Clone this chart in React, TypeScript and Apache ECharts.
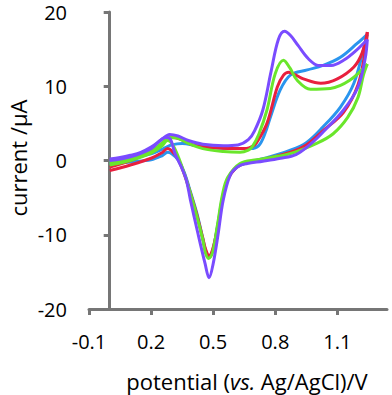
import { useEffect, useRef } from "react";
import * as echarts from "echarts";

// Tick labels
const xTickValues = [-0.1, 0.2, 0.5, 0.8, 1.1];
const yTickValues = [-20, -10, 0, 10, 20];

const seriesNames = ["blue", "red", "green", "purple"];
const seriesColors = ["#2a95ee", "#e8203e", "#6ae62b", "#7a4cff"];

// [potential (V), current (µA)] — anodic (forward) and cathodic (reverse) branches
const blueForward = [
  [0.0, -0.2], [0.1, 0.3], [0.2, 0.9], [0.26, 1.6], [0.3, 2.1], [0.35, 2.3], [0.42, 2.0],
  [0.5, 1.7], [0.6, 1.6], [0.68, 1.6], [0.72, 2.0], [0.75, 3.6], [0.776, 5.8], [0.824, 9.5],
  [0.873, 11.5], [0.955, 12.2], [1.03, 12.8], [1.115, 13.9], [1.197, 15.8], [1.245, 17.0],
];
const blueReverse = [
  [1.245, 17.0], [1.226, 14.9], [1.18, 10.4], [1.115, 7.2], [1.03, 4.5], [0.95, 2.4], [0.87, 1.35],
  [0.75, 0.3], [0.66, -0.3], [0.61, -1.0], [0.57, -2.5], [0.545, -5.0], [0.52, -9.0], [0.497, -12.2],
  [0.48, -13.0], [0.464, -12.2], [0.45, -10.5], [0.42, -7.0], [0.39, -4.2], [0.36, -1.6], [0.33, 0.1],
  [0.3, 0.9], [0.28, 1.1], [0.25, 0.6], [0.2, 0.1], [0.1, -0.2], [0.0, -0.5],
];

const redForward = [
  [0.0, -0.9], [0.1, 0.0], [0.2, 1.2], [0.25, 2.2], [0.3, 3.1], [0.34, 2.9], [0.4, 2.1],
  [0.5, 1.7], [0.6, 1.6], [0.66, 1.6], [0.69, 1.9], [0.71, 2.4], [0.76, 5.0], [0.81, 9.9],
  [0.84, 11.5], [0.865, 11.9], [0.9, 11.5], [0.936, 11.0], [1.02, 10.4], [1.1, 11.0], [1.18, 12.6],
  [1.22, 14.5], [1.245, 17.3],
];
const redReverse = [
  [1.245, 17.3], [1.235, 14.8], [1.2, 10.2], [1.13, 6.5], [1.03, 4.0], [0.95, 2.1], [0.87, 1.1],
  [0.75, 0.2], [0.66, -0.3], [0.61, -1.0], [0.57, -2.6], [0.545, -5.2], [0.52, -9.2], [0.497, -12.0],
  [0.48, -12.8], [0.464, -12.0], [0.45, -10.5], [0.42, -7.2], [0.39, -4.4], [0.36, -1.8], [0.33, 0.2],
  [0.3, 1.3], [0.28, 1.6], [0.25, 1.0], [0.2, 0.3], [0.1, -0.6], [0.0, -1.35],
];

const greenForward = [
  [0.0, -0.3], [0.1, 0.3], [0.2, 1.3], [0.25, 2.3], [0.29, 3.1], [0.33, 3.0], [0.38, 2.3],
  [0.45, 1.6], [0.55, 1.2], [0.63, 1.1], [0.67, 1.4], [0.69, 1.9], [0.72, 3.5], [0.76, 6.8],
  [0.8, 11.7], [0.84, 13.5], [0.87, 12.5], [0.906, 10.8], [0.97, 9.6], [1.066, 9.7], [1.16, 10.8],
  [1.245, 13.0],
];
const greenReverse = [
  [1.245, 13.0], [1.226, 11.5], [1.2, 8.5], [1.15, 5.8], [1.08, 3.6], [1.0, 2.3], [0.87, 0.9],
  [0.71, 0.1], [0.63, -0.4], [0.57, -2.3], [0.545, -4.6], [0.52, -8.8], [0.497, -12.4], [0.478, -13.2],
  [0.462, -12.4], [0.45, -10.7], [0.42, -7.4], [0.39, -4.4], [0.36, -1.7], [0.33, 0.6], [0.3, 2.3],
  [0.28, 2.7], [0.25, 1.9], [0.2, 1.0], [0.1, 0.0], [0.0, -0.6],
];

const purpleForward = [
  [0.0, 0.2], [0.05, 0.4], [0.1, 0.7], [0.15, 1.1], [0.2, 1.8], [0.25, 2.8], [0.29, 3.5],
  [0.33, 3.3], [0.38, 2.7], [0.45, 2.2], [0.55, 2.0], [0.62, 2.1], [0.67, 2.8], [0.7, 4.0],
  [0.74, 6.8], [0.78, 12.0], [0.815, 16.3], [0.845, 17.4], [0.875, 16.8], [0.91, 15.5],
  [0.96, 13.7], [1.01, 12.8], [1.07, 12.8], [1.13, 13.5], [1.19, 14.8], [1.245, 16.3],
];
const purpleReverse = [
  [1.245, 16.3], [1.235, 13.8], [1.2, 9.9], [1.13, 6.8], [1.03, 3.8], [0.97, 2.2], [0.9, 0.8],
  [0.825, 0.3], [0.74, -0.1], [0.665, -0.4], [0.62, -0.8], [0.582, -2.0], [0.548, -5.4],
  [0.524, -9.9], [0.5, -13.9], [0.48, -15.8], [0.461, -13.9], [0.427, -9.9], [0.39, -5.3],
  [0.37, -2.6], [0.345, -0.8], [0.316, 0.9], [0.29, 3.0], [0.27, 3.1], [0.2, 1.6], [0.1, 0.5],
  [0.0, 0.0],
];

const branches = [
  [blueForward, blueReverse],
  [redForward, redReverse],
  [greenForward, greenReverse],
  [purpleForward, purpleReverse],
];

const axisColor = "#767676";
const font = '"Open Sans", "Noto Sans", sans-serif';

export default function App() {
  const ref = useRef<HTMLDivElement>(null);
  useEffect(() => {
    if (!ref.current) return;
    const chart = echarts.init(ref.current, undefined, { renderer: "svg" });
    const series: any[] = [];
    branches.forEach((pair, i) => {
      pair.forEach((data, j) => {
        series.push({
          name: seriesNames[i],
          id: seriesNames[i] + (j === 0 ? "-forward" : "-reverse"),
          type: "line",
          data,
          smooth: 0.35,
          showSymbol: false,
          symbol: "none",
          z: 2 + i,
          lineStyle: { color: seriesColors[i], width: 3 },
          itemStyle: { color: seriesColors[i] },
        });
      });
    });
    chart.setOption({
      animation: false,
      grid: { left: 89, right: 5, top: 12, bottom: 86, containLabel: false },
      xAxis: {
        type: "value",
        min: -0.1,
        max: 1.34,
        interval: 0.3,
        splitLine: { show: false },
        axisLine: { show: true, onZero: false, lineStyle: { color: axisColor, width: 3 } },
        axisTick: { show: true, length: 6, lineStyle: { color: axisColor, width: 3 }, customValues: xTickValues },
        axisLabel: {
          customValues: xTickValues,
          margin: 22,
          fontSize: 20,
          fontFamily: font,
          color: "#000",
          formatter: (v: number) => v.toFixed(1),
        },
      },
      yAxis: {
        type: "value",
        min: -20,
        max: 20,
        interval: 10,
        splitLine: { show: false },
        axisLine: { show: true, lineStyle: { color: axisColor, width: 3 } },
        axisTick: { show: true, length: 6, lineStyle: { color: axisColor, width: 3 } },
        axisLabel: { margin: 22, fontSize: 20, fontFamily: font, color: "#000" },
      },
      graphic: [
        {
          type: "text",
          x: 17.5,
          y: 158,
          rotation: Math.PI / 2,
          style: {
            text: "current /μA",
            fontSize: 22,
            fontFamily: font,
            fill: "#000",
            align: "center",
            verticalAlign: "middle",
          },
        },
        {
          type: "text",
          x: 247,
          y: 381,
          style: {
            text: "{n|potential (}{i|vs.}{n| Ag/AgCl)/V}",
            fontSize: 22,
            fontFamily: font,
            fill: "#000",
            align: "center",
            verticalAlign: "middle",
            rich: {
              n: { fontSize: 22, fontFamily: font, fill: "#000" },
              i: { fontSize: 22, fontFamily: font, fontStyle: "italic", fill: "#000" },
            },
          },
        },
      ],
      series,
    });
    return () => chart.dispose();
  }, []);
  return <div ref={ref} style={{ width: 392, height: 395, position: "absolute", left: 0, top: 0 }} />;
}
